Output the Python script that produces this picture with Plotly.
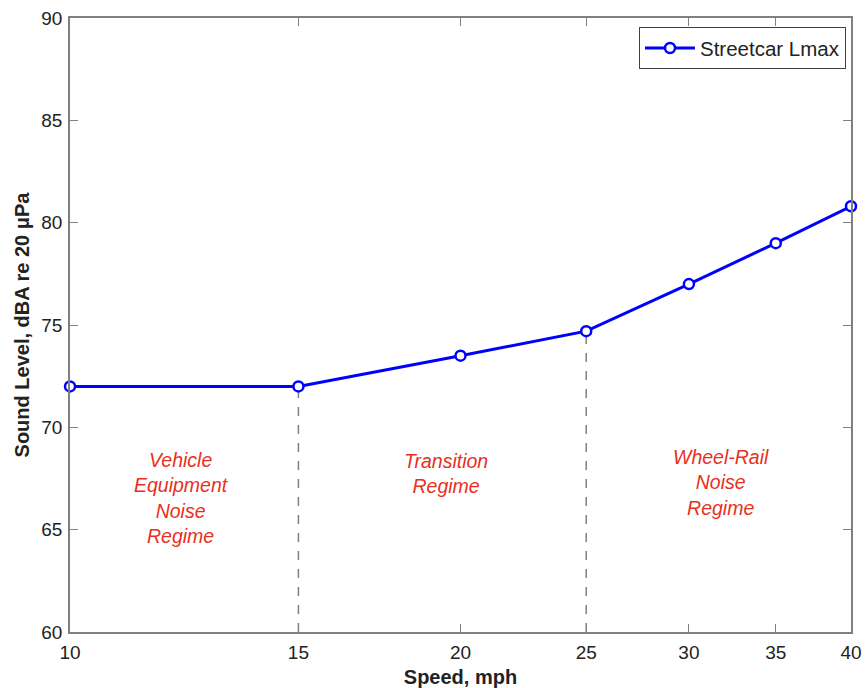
import plotly.graph_objects as go
import numpy as np

speed = [10, 15, 20, 25, 30, 35, 40]
lmax = [72.0, 72.0, 73.5, 74.7, 77.0, 79.0, 80.8]
x_ticks = [10, 15, 20, 25, 30, 35, 40]
y_ticks = [60, 65, 70, 75, 80, 85, 90]
regime_bounds = [15, 25]
regime_bound_levels = [72.0, 74.7]
regime_labels = ["Vehicle<br>Equipment<br>Noise<br>Regime", "Transition<br>Regime", "Wheel-Rail<br>Noise<br>Regime"]
regime_label_x = [12.18, 19.5, 31.76]
regime_label_y = [66.55, 67.75, 67.3]

RED = "#e8301c"
FONT = "Liberation Sans, Arial, sans-serif"

fig = go.Figure()

for xb, yb in zip(regime_bounds, regime_bound_levels):
    fig.add_trace(go.Scatter(x=[xb, xb], y=[60, yb], mode="lines",
                             line=dict(color="#808080", width=1.5, dash="dash"),
                             showlegend=False, hoverinfo="skip"))

fig.add_trace(go.Scatter(x=speed, y=lmax, mode="lines+markers", name="Streetcar Lmax",
                         line=dict(color="#0000ff", width=3),
                         marker=dict(symbol="circle", size=10, color="white",
                                     line=dict(width=2.5, color="#0000ff")),
                         cliponaxis=False))

for txt, lx, ly in zip(regime_labels, regime_label_x, regime_label_y):
    fig.add_annotation(x=np.log10(lx), y=ly, text="<i>" + txt + "</i>", showarrow=False,
                       font=dict(color=RED, size=19.5, family=FONT), align="center")

axis_common = dict(showline=True, linecolor="#808080", linewidth=1.5, mirror="ticks",
                   ticks="inside", ticklen=8, tickcolor="#808080", tickwidth=1,
                   showgrid=False, zeroline=False, automargin=False,
                   tickfont=dict(size=19, color="#222222", family=FONT))

fig.update_layout(
    width=867, height=688,
    margin=dict(l=70, r=16, t=18, b=56),
    paper_bgcolor="white", plot_bgcolor="white",
    font=dict(family=FONT, color="#222222"),
    xaxis=dict(type="log", range=[np.log10(10), np.log10(40)], tickvals=x_ticks,
               ticktext=[str(v) for v in x_ticks], ticklabelstandoff=2,
               title=dict(text="<b>Speed, mph</b>", font=dict(size=20, family=FONT), standoff=8),
               **axis_common),
    yaxis=dict(range=[60, 90], tickvals=y_ticks, ticklabelstandoff=2,
               title=dict(text="<b>Sound Level, dBA re 20 μPa</b>", font=dict(size=20, family=FONT), standoff=6),
               **axis_common),
    legend=dict(x=0.9936, y=0.985, xanchor="right", yanchor="top",
                bordercolor="#404040", borderwidth=1, bgcolor="white",
                itemwidth=50,
                font=dict(size=20.5, family=FONT, color="#222222")),
)

fig.write_html("out.html")
